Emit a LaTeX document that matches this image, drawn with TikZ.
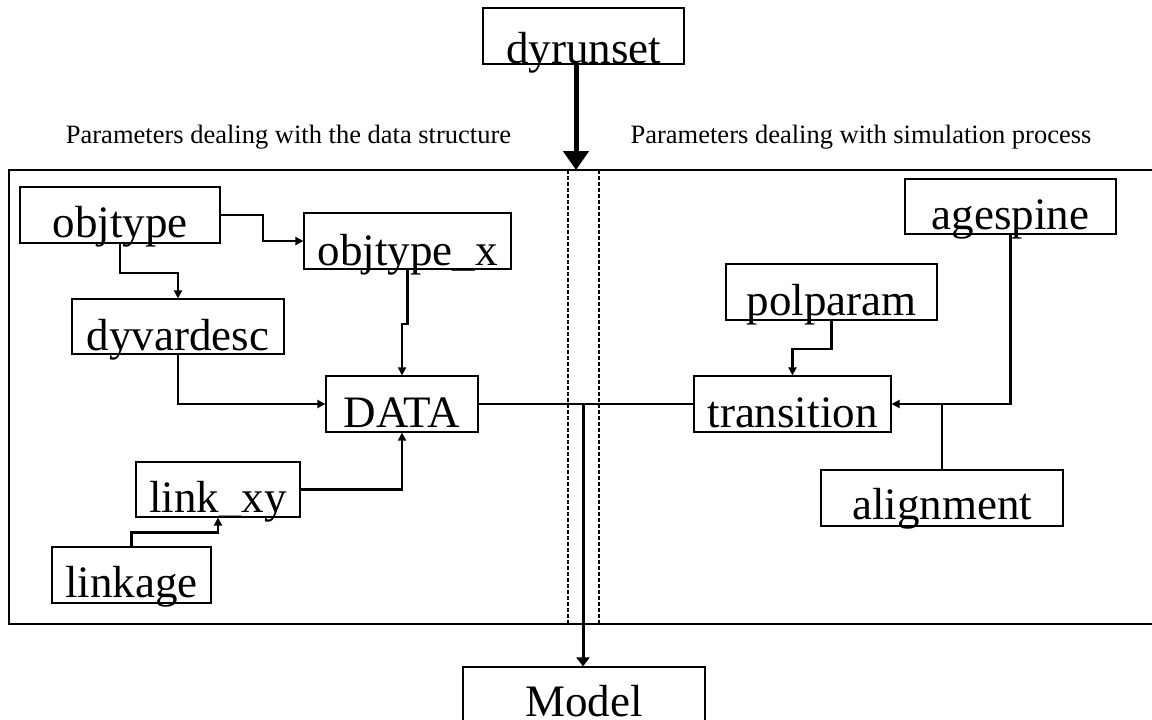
\documentclass[tikz,border=0pt]{standalone}
\usepackage{fontspec}
\setmainfont{Liberation Serif}
\usetikzlibrary{arrows.meta}
\newcommand\boxfont{\fontsize{45}{50}\selectfont}
\newcommand\lblfont{\fontsize{26.5}{30}\selectfont}
\tikzset{
  pbox/.style={draw, line width=1.2pt, inner sep=0pt, text depth=0pt, font=\boxfont, anchor=center},
  conn/.style={line width=2.2pt, -{Triangle[length=8pt,width=8pt]}},
  plain/.style={line width=2.2pt},
  bigarrow/.style={line width=5pt, -{Triangle[length=19pt,width=25pt]}},
  modarrow/.style={line width=3pt, -{Triangle[length=9pt,width=13pt]}},
  sep/.style={line width=1.6pt, dash pattern=on 3.5pt off 2.5pt},
  frame/.style={line width=1.2pt},
  lbl/.style={font=\lblfont, anchor=base, inner sep=0pt}
}
\begin{document}
\begin{tikzpicture}[x=1pt,y=-1pt]
\useasboundingbox (0,0) rectangle (1152,720);
% outer frame (right side runs off the page)
\draw[frame] (1152,170) -- (9,170) -- (9,624) -- (1152,624);
% separators
\coordinate (sepLt) at (568,170);
\coordinate (sepLb) at (568,624);
\coordinate (sepRt) at (599,170);
\coordinate (sepRb) at (599,624);
\draw[sep] (sepLt) -- (sepLb);
\draw[sep] (sepRt) -- (sepRb);
% labels
\node[lbl] (lblL) at (288.5,143) {Parameters dealing with the data structure};
\node[lbl] (lblR) at (861,143) {Parameters dealing with simulation process};
% boxes
\node[pbox, minimum width=201pt, minimum height=56pt, text height=54pt] (dyrunset) at (583.5,36) {dyrunset};
\node[pbox, minimum width=200pt, minimum height=56pt, text height=44pt] (objtype) at (120,215) {objtype};
\node[pbox, minimum width=207pt, minimum height=56pt, text height=48pt] (objtypex) at (407.5,241) {objtype\_x};
\node[pbox, minimum width=212pt, minimum height=55pt, text height=47pt] (dyvardesc) at (178,326.5) {dyvardesc};
\node[pbox, minimum width=152pt, minimum height=56pt, text height=46pt] (DATA) at (402,404) {DATA};
\node[pbox, minimum width=164pt, minimum height=55pt, text height=45pt] (linkxy) at (218,489.5) {link\_xy};
\node[pbox, minimum width=159pt, minimum height=56pt, text height=44pt] (linkage) at (131.5,575) {linkage};
\node[pbox, minimum width=211pt, minimum height=55pt, text height=45pt] (agespine) at (1010.5,206.5) {agespine};
\node[pbox, minimum width=211pt, minimum height=56pt, text height=46pt] (polparam) at (831.5,292) {polparam};
\node[pbox, minimum width=197pt, minimum height=56pt, text height=46pt] (transition) at (792.5,404) {transition};
\node[pbox, minimum width=242pt, minimum height=56pt, text height=42pt] (alignment) at (942,498) {alignment};
\node[pbox, minimum width=242pt, minimum height=54pt, text height=44pt] (Model) at (584,694) {Model};
% dyrunset arrow
\coordinate (dytip) at (576,170);
\draw[bigarrow] (dytip |- dyrunset.south) -- (dytip);
% left connectors
\draw[conn] (objtype.east) -- ++(42,0) |- (objtypex.west);
\draw[conn] (objtype.south) -- ++(0,29) -| (dyvardesc.north);
\draw[conn] (objtypex.south) -- ++(0,54) -| (DATA.north);
\draw[conn] (dyvardesc.south) |- (DATA.west);
\draw[conn] (linkxy.east) -| (DATA.south);
\draw[conn] (linkage.north) -- ++(0,-14) -| (linkxy.south);
% right connectors
\draw[conn] (polparam.south) -- ++(0,28) -| (transition.north);
\draw[conn] (agespine.south) |- (transition.east);
\draw[plain] (alignment.north) -- (alignment.north |- transition.east);
% centre
\draw[plain] (DATA.east) -- (transition.west);
\coordinate (mjoin) at (583,404);
\draw[modarrow] (mjoin) -- (mjoin |- Model.north);
\end{tikzpicture}
\end{document}
